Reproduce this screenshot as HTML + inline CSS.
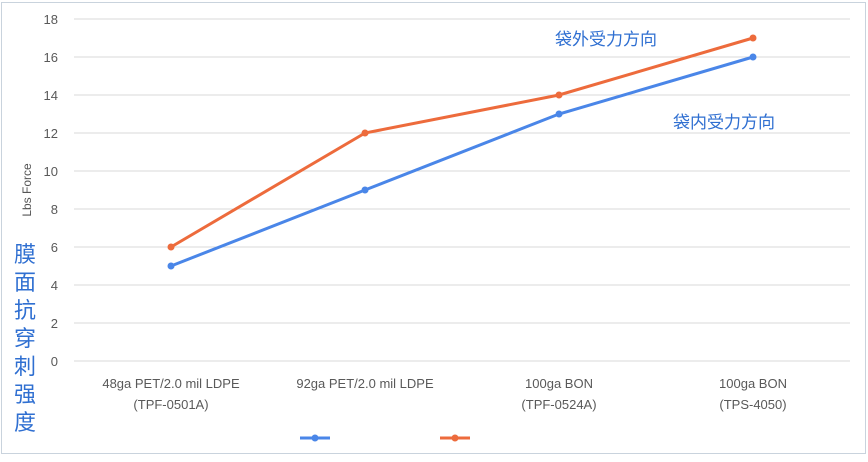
<!DOCTYPE html>
<html><head><meta charset="utf-8"><style>
body{margin:0;background:#fff;width:868px;height:457px;overflow:hidden}
svg text{font-family:"Liberation Sans","Noto Sans CJK SC",sans-serif}
</style></head><body>
<svg width="868" height="457">
<rect x="1.5" y="2.5" width="864" height="451" fill="#fff" stroke="#c9d3dd"/>
<g id="grid"></g><g id="xl"></g><g id="series"></g>
<text transform="translate(31,190) rotate(-90)" text-anchor="middle" font-size="12" fill="#555">Lbs Force</text>
<text x="26" y="0" font-size="22" fill="#2f6fd1" font-family="Noto Sans CJK SC">
<tspan x="14" y="262">膜</tspan><tspan x="14" y="290">面</tspan><tspan x="14" y="318">抗</tspan><tspan x="14" y="346">穿</tspan><tspan x="14" y="374">刺</tspan><tspan x="14" y="402">强</tspan><tspan x="14" y="430">度</tspan></text>
<text x="555" y="45" font-size="17" fill="#2f6fd1">袋外受力方向</text>
<text x="673" y="128" font-size="17" fill="#2f6fd1">袋内受力方向</text>
<g>
<line x1="300" y1="438" x2="330" y2="438" stroke="#4a86e8" stroke-width="3"/><circle cx="315" cy="438" r="3.5" fill="#4a86e8"/>
<line x1="440" y1="438" x2="470" y2="438" stroke="#ed6b3c" stroke-width="3"/><circle cx="455" cy="438" r="3.5" fill="#ed6b3c"/>
</g>
</svg>
<script>
const categories=[["48ga PET/2.0 mil LDPE","(TPF-0501A)"],["92ga PET/2.0 mil LDPE",""],["100ga BON","(TPF-0524A)"],["100ga BON","(TPS-4050)"]];
const inner=[5,9,13,16];
const outer=[6,12,14,17];
const ticks=[0,2,4,6,8,10,12,14,16,18];
const NS="http://www.w3.org/2000/svg";
const y=v=>361-v*19;
const x=i=>74+194*(i+0.5);
function mk(t,a,p){const e=document.createElementNS(NS,t);for(const k in a)e.setAttribute(k,a[k]);p.appendChild(e);return e;}
const g=document.getElementById('grid');
ticks.forEach(t=>{
 const l=mk('line',{x1:74,x2:850,y1:y(t),y2:y(t),stroke:'#d9d9d9'},g);
 
 
 const tx=mk('text',{x:58,y:y(t)+5,'text-anchor':'end','font-size':13,fill:'#595959'},g);tx.textContent=t;
 
 
});
const xl=document.getElementById('xl');
categories.forEach((c,i)=>{c.forEach((s,j)=>{if(!s)return;
 const t=mk('text',{x:x(i),y:388+j*21,'text-anchor':'middle','font-size':13,fill:'#595959'},xl);t.textContent=s;
 
 });});
const sg=document.getElementById('series');
[[inner,'#4a86e8','inner'],[outer,'#ed6b3c','outer']].forEach(([d,c,n])=>{
 const p=mk('polyline',{points:d.map((v,i)=>x(i)+','+y(v)).join(' '),fill:'none',stroke:c,'stroke-width':3},sg);
 
 
 d.forEach((v,i)=>{const e=mk('circle',{cx:x(i),cy:y(v),r:3.5,fill:c},sg);
 
 });
});
</script>
</body></html>
